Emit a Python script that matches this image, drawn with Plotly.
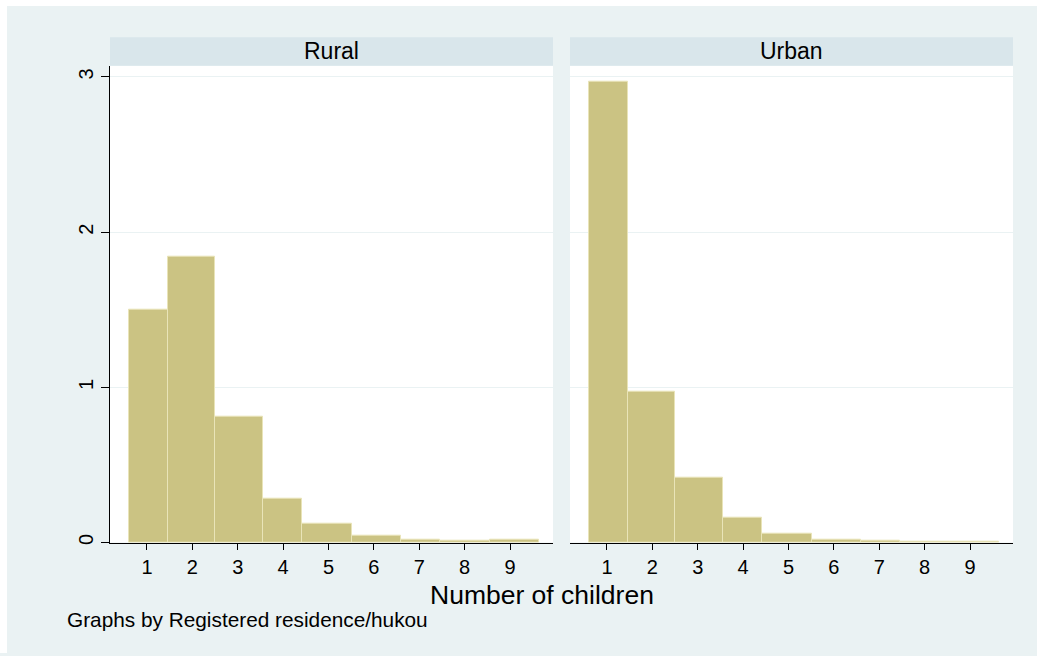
import plotly.graph_objects as go

# Histogram of number of children by registered residence (hukou)
children = [1, 2, 3, 4, 5, 6, 7, 8, 9]
bin_edges = [0.60, 1.47, 2.49, 3.555, 4.415, 5.51, 6.60, 7.467, 8.548, 9.63]
rural_density = [1.501, 1.843, 0.81, 0.282, 0.124, 0.047, 0.02, 0.01, 0.015]
urban_density = [2.968, 0.972, 0.417, 0.163, 0.06, 0.02, 0.01, 0.004, 0.004]
panels = ["Rural", "Urban"]
y_ticks = [0, 1, 2, 3]

W, H = 1037, 656
BG = "#EAF2F3"
STRIP = "#D9E6EB"
BAR_FILL = "#CBC383"
BAR_LINE = "#E9E4B8"
FONT = "Liberation Sans, Arial, sans-serif"

centers = [(a + b) / 2 for a, b in zip(bin_edges[:-1], bin_edges[1:])]
widths = [b - a for a, b in zip(bin_edges[:-1], bin_edges[1:])]


def px_x(p):
    return p / W


def px_y(p):
    return (H - p) / H


fig = go.Figure()
for i, vals in enumerate([rural_density, urban_density]):
    fig.add_trace(go.Bar(
        x=centers, y=vals, width=widths,
        marker=dict(color=BAR_FILL, line=dict(color=BAR_LINE, width=1)),
        xaxis="x" if i == 0 else "x2",
        yaxis="y" if i == 0 else "y2",
        showlegend=False, hoverinfo="skip",
    ))

x_range = [0.185, 9.947]
y_range = [0, 3.0725]
dom_y = [px_y(545), px_y(66)]
dom_x1 = [px_x(110), px_x(553)]
dom_x2 = [px_x(570), px_x(1013)]

xax = dict(
    range=x_range, tickvals=children, ticktext=[str(c) for c in children],
    showline=True, linecolor="black", linewidth=1,
    ticks="outside", ticklen=6, tickcolor="black", tickwidth=1,
    showgrid=False, zeroline=False,
    tickfont=dict(family=FONT, size=20, color="black"),
)
fig.update_layout(
    width=W, height=H,
    margin=dict(l=0, r=0, t=0, b=0),
    paper_bgcolor=BG, plot_bgcolor="white",
    bargap=0,
    xaxis=dict(xax, domain=dom_x1, anchor="y"),
    xaxis2=dict(xax, domain=dom_x2, anchor="y2"),
    yaxis=dict(
        domain=dom_y, range=y_range, anchor="x",
        tickvals=y_ticks, ticktext=[str(v) for v in y_ticks],
        tickangle=-90,
        showline=True, linecolor="black", linewidth=1,
        ticks="outside", ticklen=8, tickcolor="black", tickwidth=1,
        showgrid=True, gridcolor=BG, gridwidth=1, zeroline=False,
        tickfont=dict(family=FONT, size=20, color="black"),
    ),
    yaxis2=dict(
        domain=dom_y, range=y_range, anchor="x2",
        tickvals=y_ticks, showticklabels=False, ticks="",
        showline=False, showgrid=True, gridcolor=BG, gridwidth=1,
        zeroline=False,
    ),
)

shapes = [
    # white frame on the top and left edges
    dict(type="rect", xref="paper", yref="paper", x0=0, x1=1,
         y0=px_y(6), y1=1, fillcolor="white", line=dict(width=0), layer="below"),
    dict(type="rect", xref="paper", yref="paper", x0=0, x1=px_x(7),
         y0=0, y1=1, fillcolor="white", line=dict(width=0), layer="below"),
]
annotations = []
for name, dom in zip(panels, [dom_x1, dom_x2]):
    shapes.append(dict(type="rect", xref="paper", yref="paper",
                       x0=dom[0], x1=dom[1], y0=px_y(66), y1=px_y(37.3),
                       fillcolor=STRIP, line=dict(width=0), layer="below"))
    annotations.append(dict(text=name, xref="paper", yref="paper",
                            x=(dom[0] + dom[1]) / 2, y=px_y(51.5),
                            xanchor="center", yanchor="middle", showarrow=False,
                            font=dict(family=FONT, size=23, color="black")))

annotations.append(dict(text="Number of children", xref="paper", yref="paper",
                        x=px_x(541.5), y=px_y(598), xanchor="center", yanchor="middle",
                        showarrow=False, font=dict(family=FONT, size=26.5, color="black")))
annotations.append(dict(text="Graphs by Registered residence/hukou", xref="paper",
                        yref="paper", x=px_x(65), y=px_y(622), xanchor="left",
                        yanchor="middle", showarrow=False,
                        font=dict(family=FONT, size=20.8, color="black")))

fig.update_layout(shapes=shapes, annotations=annotations)
fig.write_html("out.html")
